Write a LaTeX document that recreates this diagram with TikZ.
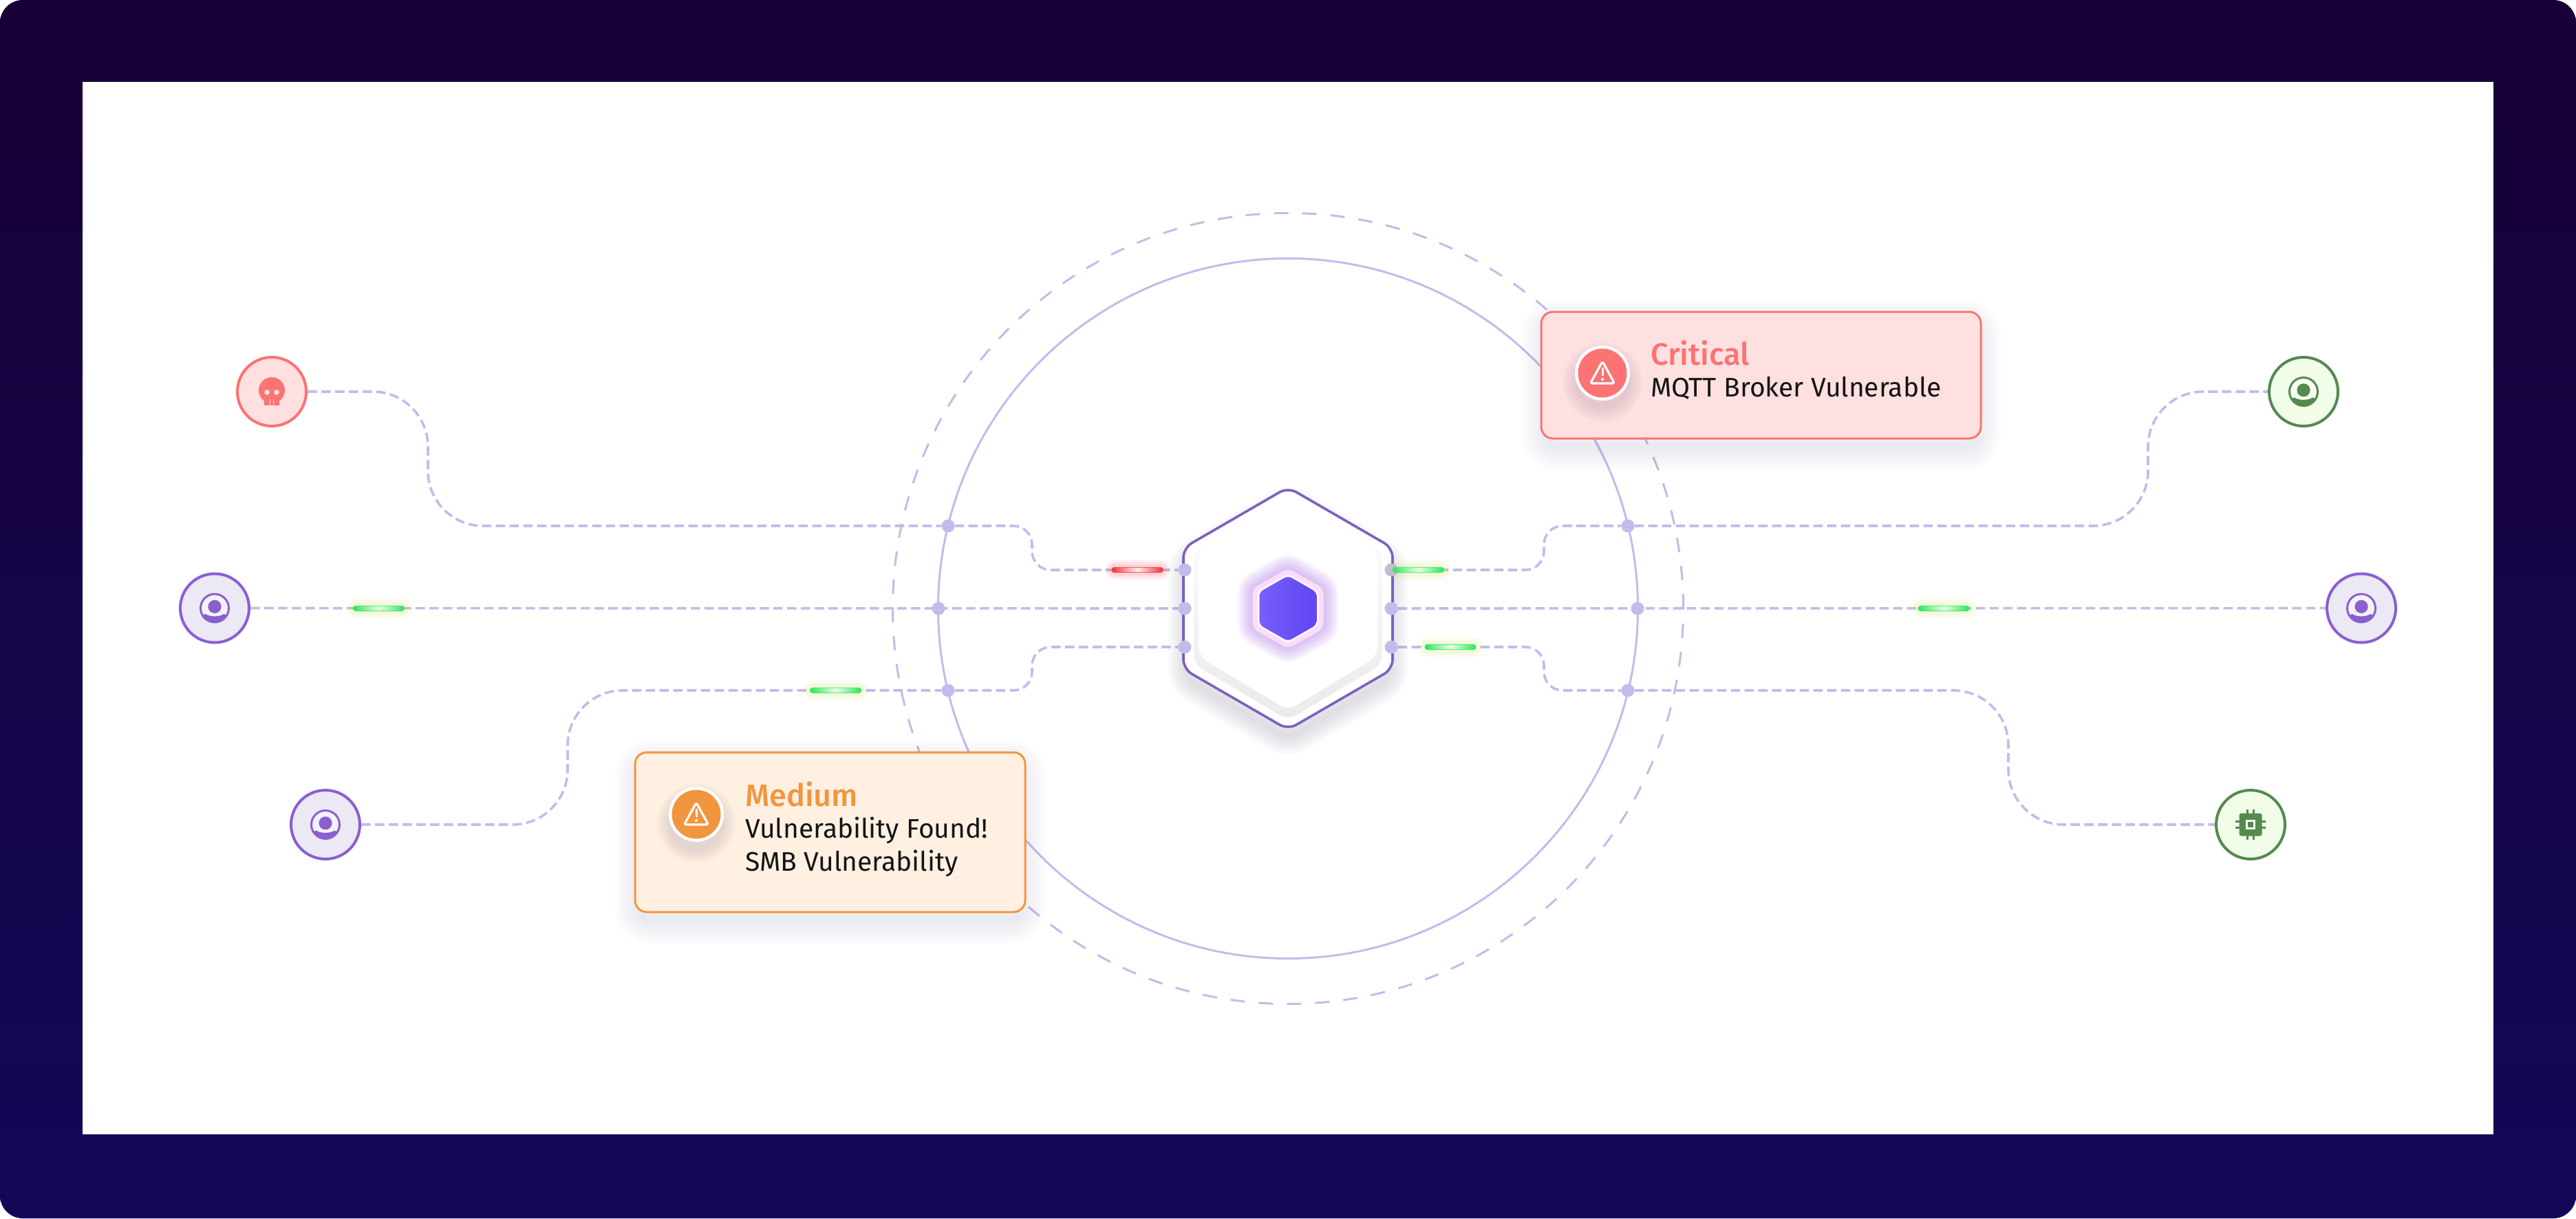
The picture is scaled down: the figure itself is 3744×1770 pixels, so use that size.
\documentclass[tikz,border=0pt]{standalone}
\usepackage{fontspec}
\setmainfont{Fira Sans}
\newfontfamily\medfont{Fira Sans Medium}
\usetikzlibrary{calc,fadings}
\pgfdeclarelayer{back}
\pgfsetlayers{back,main}
\definecolor{ringc}{HTML}{C4BBEA}
\definecolor{hexedge}{HTML}{7F5FBF}
\definecolor{rd}{HTML}{FB7373}
\definecolor{rdfill}{HTML}{FFE0E0}
\definecolor{pu}{HTML}{8A5FD0}
\definecolor{pufill}{HTML}{ECE8F4}
\definecolor{gn}{HTML}{548A4E}
\definecolor{gnfill}{HTML}{F1FCE9}
\definecolor{og}{HTML}{F2953F}
\definecolor{ogfill}{HTML}{FFF0E1}
\definecolor{top}{HTML}{170035}
\definecolor{bot}{HTML}{130858}
\definecolor{shad}{HTML}{5A5A80}
\definecolor{pillg}{HTML}{2BE65A}
\definecolor{pillr}{HTML}{F0303C}
\definecolor{coreA}{HTML}{6347F2}
\definecolor{coreB}{HTML}{A050FA}
\definecolor{coreC}{HTML}{8070FF}
\definecolor{glowc}{HTML}{B98AEA}
\definecolor{glowring}{HTML}{FBDDFB}
\pgfdeclareradialshading{coreshade}{\pgfpoint{6bp}{0bp}}{color(0bp)=(coreA);color(20bp)=(coreA);color(46bp)=(coreB);color(70bp)=(coreB)}
\newcommand\hexp[4]{(#1,#2-#4) -- (#1+#3,#2-0.5*#4) -- (#1+#3,#2+0.5*#4) -- (#1,#2+#4) -- (#1-#3,#2+0.5*#4) -- (#1-#3,#2-0.5*#4) -- cycle}
\newcommand\softglow[4]{\foreach \w in {#3}{\path[draw=#2,draw opacity=#4,line width=\w pt,line join=round] #1;}}
\newcommand\personicon[3]{%
  \fill[white,opacity=.45] (#1,#2) circle (20.5);
  \draw[#3,line width=3pt] (#1,#2) circle (20.5);
  \fill[#3] (#1,#2-2.2) circle (9.6);
  \begin{scope}
    \clip (#1,#2) circle (20.5);
    \fill[#3] (#1-25,#2+30) -- (#1-25,#2+13) -- (#1-13,#2+8.5) .. controls (#1-8,#2+13) and (#1+8,#2+13) .. (#1+13,#2+8.5) -- (#1+25,#2+13) -- (#1+25,#2+30) -- cycle;
  \end{scope}}
\newcommand\warnicon[2]{%
  \draw[white,line width=3.2pt,rounded corners=3pt,line join=round] (#1,#2-16) -- (#1+17.5,#2+16) -- (#1-17.5,#2+16) -- cycle;
  \draw[white,line width=3pt,line cap=round] (#1,#2-6) -- (#1,#2+4);
  \fill[white] (#1,#2+10) circle (2);}
\newcommand\badgeshadow[2]{\foreach \r in {40,43,...,58}{\fill[shad,opacity=.022] (#1,#2+13) circle (\r);}}
\tikzset{
  conn/.style={draw=ringc,line width=3.6pt,dash pattern=on 13.5pt off 6.5pt},
  dotc/.style={circle,fill=ringc,inner sep=0pt,minimum size=19pt},
  iconc/.style={circle,inner sep=0pt,minimum size=100pt,line width=4pt,draw=#1},
  pillgreen/.style={rounded corners=3.5pt,inner sep=0pt,minimum width=74pt,minimum height=7.5pt,draw=pillg,line width=.6pt,left color=pillg,right color=pillg,middle color=green!8!white},
  pillred/.style={rounded corners=3.5pt,inner sep=0pt,minimum width=74pt,minimum height=7.5pt,draw=pillr,line width=.6pt,left color=pillr,right color=pillr,middle color=red!6!white},
  cardtext/.style={anchor=base west,inner sep=0pt,text=black!92,font=\fontsize{39}{39}\selectfont},
  cardhead/.style={anchor=base west,inner sep=0pt,font=\medfont\fontsize{45}{45}\selectfont},
}
\begin{document}
\begin{tikzpicture}[x=1pt,y=-1pt]
\useasboundingbox (0,0) rectangle (3744,1770);
% dots
\node[dotc] (hl1) at (1722,828) {};
\node[dotc] (hl2) at (1722,884) {};
\node[dotc] (hl3) at (1722,940) {};
\node[dotc] (hr1) at (2022,828) {};
\node[dotc] (hr2) at (2022,884) {};
\node[dotc] (hr3) at (2022,940) {};
\node[dotc] (rl1) at (1378,764) {};
\node[dotc] (rl2) at (1364,884) {};
\node[dotc] (rl3) at (1378,1003) {};
\node[dotc] (rr1) at (2366,764) {};
\node[dotc] (rr2) at (2380,884) {};
\node[dotc] (rr3) at (2366,1003) {};
% end icons
\node[iconc=rd,fill=rdfill] (skull) at (395,569) {};
\node[iconc=pu,fill=pufill] (userL) at (312,883.5) {};
\node[iconc=pu,fill=pufill] (userB) at (473,1198) {};
\node[iconc=gn,fill=gnfill] (userG) at (3348,569) {};
\node[iconc=pu,fill=pufill] (userR) at (3432,883.5) {};
\node[iconc=gn,fill=gnfill] (chip) at (3271,1198) {};
\begin{pgfonlayer}{back}
\fill[white] (0,0) rectangle (3744,1770);
\shade[top color=top,bottom color=bot,rounded corners=33pt] (0,0) rectangle (3744,1770);
\fill[white] (120,119) rectangle (3624,1648);
\node[circle,draw=ringc,line width=3pt,inner sep=0pt,minimum size=1017pt] (ringA) at (1872,884) {};
\node[circle,draw=ringc,line width=3pt,inner sep=0pt,minimum size=1149pt,dash pattern=on 21pt off 20pt] (ringB) at (1872,884) {};
\draw[conn,rounded corners=80pt] (skull.east) -- (622,569) -- (622,764) -- (rl1);
\draw[conn,rounded corners=27pt] (rl1) -- (1500,764) -- (1500,828) -- (hl1);
\draw[conn] (userL.east) -- (hl2);
\draw[conn,rounded corners=80pt] (userB.east) -- (825,1198) -- (825,1003) -- (rl3);
\draw[conn,rounded corners=27pt] (rl3) -- (1500,1003) -- (1500,940) -- (hl3);
\draw[conn,rounded corners=27pt] (hr1) -- (2244,828) -- (2244,764) -- (rr1);
\draw[conn,rounded corners=80pt] (rr1) -- (3122,764) -- (3122,569) -- (userG.west);
\draw[conn] (hr2) -- (userR.west);
\draw[conn,rounded corners=27pt] (hr3) -- (2244,940) -- (2244,1003) -- (rr3);
\draw[conn,rounded corners=80pt] (rr3) -- (2919,1003) -- (2919,1198) -- (chip.west);
\end{pgfonlayer}
% central hexagon
\softglow{[rounded corners=14pt]\hexp{1872}{902}{146}{170}}{shad}{56,48,40,32,24,16,8}{.026}
\fill[white,rounded corners=14pt] \hexp{1872}{884}{152}{176};
\shade[top color=white,bottom color=black!8,rounded corners=14pt] \hexp{1872}{884}{137}{162};
\fill[white,rounded corners=14pt] \hexp{1872}{875}{130}{157};
\draw[hexedge,line width=3.6pt,rounded corners=14pt] \hexp{1872}{884}{152}{176};
\softglow{[rounded corners=6pt]\hexp{1872}{884}{48}{54}}{glowc}{50,44,38,32,26,20,14}{.09}
\draw[glowring,line width=10pt,rounded corners=6pt,line join=round] \hexp{1872}{884}{46.5}{52.5};
\draw[white,line width=3pt,rounded corners=6pt,line join=round] \hexp{1872}{884}{43}{48.5};
\shade[shading=coreshade,rounded corners=6pt] \hexp{1872}{884}{41.5}{47.5};
\fill[coreC,opacity=.55,path fading=east,rounded corners=6pt] \hexp{1872}{884}{41.5}{47.5};
% dots over the hexagon
\foreach \d in {hl1,hl2,hl3,hr1,hr2,hr3}{\fill[ringc] (\d) circle (9.5);}
% icon glyphs
\fill[rd] (395,567) circle (19);
\fill[rd] (384,575) rectangle (406,589);
\fill[rdfill] (388,570) circle (3.8);
\fill[rdfill] (402,570) circle (3.8);
\fill[rdfill] (391.6,580) rectangle (393,589);
\fill[rdfill] (397,580) rectangle (398.4,589);
\personicon{312}{883.5}{pu}
\personicon{473}{1198}{pu}
\personicon{3348}{569}{gn}
\personicon{3432}{883.5}{pu}
\fill[gn,rounded corners=3pt] (3254.5,1181.5) rectangle (3287.5,1214.5);
\fill[gnfill] (3264,1191) rectangle (3278,1205);
\fill[gn] (3267,1194) rectangle (3275,1202);
\foreach \o in {-4.5,4.5}{
  \draw[gn,line width=2.6pt] (3271+\o,1176) -- (3271+\o,1182);
  \draw[gn,line width=2.6pt] (3271+\o,1214) -- (3271+\o,1220);
  \draw[gn,line width=2.6pt] (3249,1198+\o) -- (3255,1198+\o);
  \draw[gn,line width=2.6pt] (3287,1198+\o) -- (3293,1198+\o);
}
% pills
\foreach \cx/\cy in {550.5/884,1214.5/1003,2061.5/828,2108/940,2825/884}{
  \softglow{[rounded corners=3pt](\cx-36,\cy-3) rectangle (\cx+36,\cy+3)}{yellow!70!green}{24,18,12}{.05}
}
\softglow{[rounded corners=3pt](1617,825) rectangle (1689,831)}{pillr}{22,16,10}{.07}
\node[pillgreen] (p1) at (550.5,884) {};
\node[pillgreen] (p2) at (1214.5,1003) {};
\node[pillgreen] (p3) at (2061.5,828) {};
\node[pillgreen] (p4) at (2108,940) {};
\node[pillgreen] (p5) at (2825,884) {};
\node[pillred] (p6) at (1653,828) {};
% Critical card
\softglow{[rounded corners=17pt](2246,470) rectangle (2873,648)}{shad}{70,60,50,40,30,20,10}{.014}
\node[draw=rd,fill=rdfill,line width=3pt,rounded corners=17pt,inner sep=0pt,minimum width=639pt,minimum height=184pt] (cardC) at (2559.5,545) {};
\badgeshadow{2329}{542}
\fill[white] (2329,542) circle (40);
\fill[rd] (2329,542) circle (35.5);
\warnicon{2329}{541}
\node[cardhead,text=rd] (tC) at (2399,530) {Critical};
\node[cardtext] (bC) at (2399,576) {MQTT Broker Vulnerable};
% Medium card
\softglow{[rounded corners=17pt](929,1110) rectangle (1484,1336)}{shad}{70,60,50,40,30,20,10}{.014}
\node[draw=og,fill=ogfill,line width=3pt,rounded corners=17pt,inner sep=0pt,minimum width=567pt,minimum height=232pt] (cardM) at (1206.5,1209) {};
\badgeshadow{1012}{1183}
\fill[white] (1012,1183) circle (40);
\fill[og] (1012,1183) circle (35.5);
\warnicon{1012}{1182}
\node[cardhead,text=og] (tM) at (1083,1171) {Medium};
\node[cardtext] (bM) at (1083,1217) {Vulnerability Found!};
\node[cardtext] (bM2) at (1083,1265) {SMB Vulnerability};
\end{tikzpicture}
\end{document}
